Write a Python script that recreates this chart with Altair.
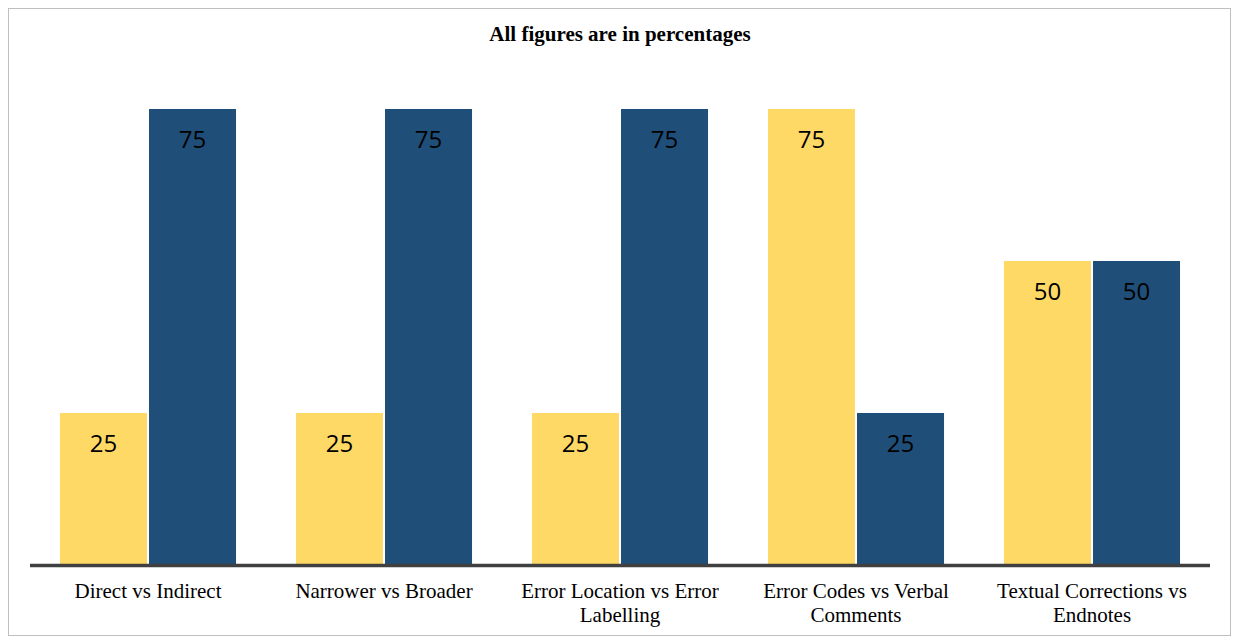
import altair as alt
import pandas as pd

# ---- data ----
categories = [
    "Direct vs Indirect",
    "Narrower vs Broader",
    "Error Location vs Error Labelling",
    "Error Codes vs Verbal Comments",
    "Textual Corrections vs Endnotes",
]
label_lines = [
    "Direct vs Indirect",
    "Narrower vs Broader",
    "Error Location vs Error|Labelling",
    "Error Codes vs Verbal|Comments",
    "Textual Corrections vs|Endnotes",
]
series_names = ["First", "Second"]
first_values = [25, 25, 25, 75, 50]
second_values = [75, 75, 75, 25, 50]
series_colors = ["#FFD966", "#1F4E79"]
title_text = "All figures are in percentages"

# ---- tables ----
rows = []
for c, a, b in zip(categories, first_values, second_values):
    rows.append({"category": c, "series": series_names[0], "value": a})
    rows.append({"category": c, "series": series_names[1], "value": b})
bars_df = pd.DataFrame(rows)
labels_df = pd.DataFrame({"category": categories, "label": label_lines})
one_row = pd.DataFrame({"t": [title_text]})

W, H = 1223, 628

x_scale = alt.Scale(domain=categories, range=[22, 1202], paddingInner=0.254, paddingOuter=0.127)
y_scale = alt.Scale(domain=[0, 75], range=[557, 101], nice=False, zero=True)
xoff_scale = alt.Scale(domain=series_names, paddingInner=0.0227, paddingOuter=0)
color_scale = alt.Scale(domain=series_names, range=series_colors)

x_enc = alt.X("category:N", scale=x_scale, axis=None, sort=categories)
xo_enc = alt.XOffset("series:N", scale=xoff_scale, sort=series_names)

bars = alt.Chart(bars_df).mark_bar().encode(
    x=x_enc,
    xOffset=xo_enc,
    y=alt.Y("value:Q", scale=y_scale, axis=None),
    color=alt.Color("series:N", scale=color_scale, legend=None),
)

values = alt.Chart(bars_df).mark_text(
    font="Open Sans", fontSize=24, baseline="alphabetic", dy=39, color="#000000"
).encode(
    x=x_enc,
    xOffset=xo_enc,
    y=alt.Y("value:Q", scale=y_scale, axis=None),
    text=alt.Text("value:Q"),
)

baseline = alt.Chart(one_row).mark_rule(color="#404040", strokeWidth=3.5, yOffset=0.5).encode(
    y=alt.datum(0, scale=y_scale),
    x=alt.value(22),
    x2=alt.value(1202),
)

cat_labels = alt.Chart(labels_df).mark_text(
    font="Liberation Serif", fontSize=21, baseline="alphabetic", lineBreak="|",
    lineHeight=24, color="#000000", align="center"
).encode(
    x=x_enc,
    y=alt.value(590),
    text="label:N",
)

title = alt.Chart(one_row).mark_text(
    font="Liberation Serif", fontSize=21, fontWeight="bold", baseline="alphabetic",
    color="#000000", align="center"
).encode(
    x=alt.value(612),
    y=alt.value(33),
    text="t:N",
)

chart = alt.layer(bars, values, baseline, cat_labels, title).properties(
    width=W, height=H, autosize="none", padding=0, background="white"
).configure_view(stroke="#BFBFBF", strokeWidth=2, fill="white")

chart.save("out.html", embed_options={"renderer": "svg", "actions": False})
